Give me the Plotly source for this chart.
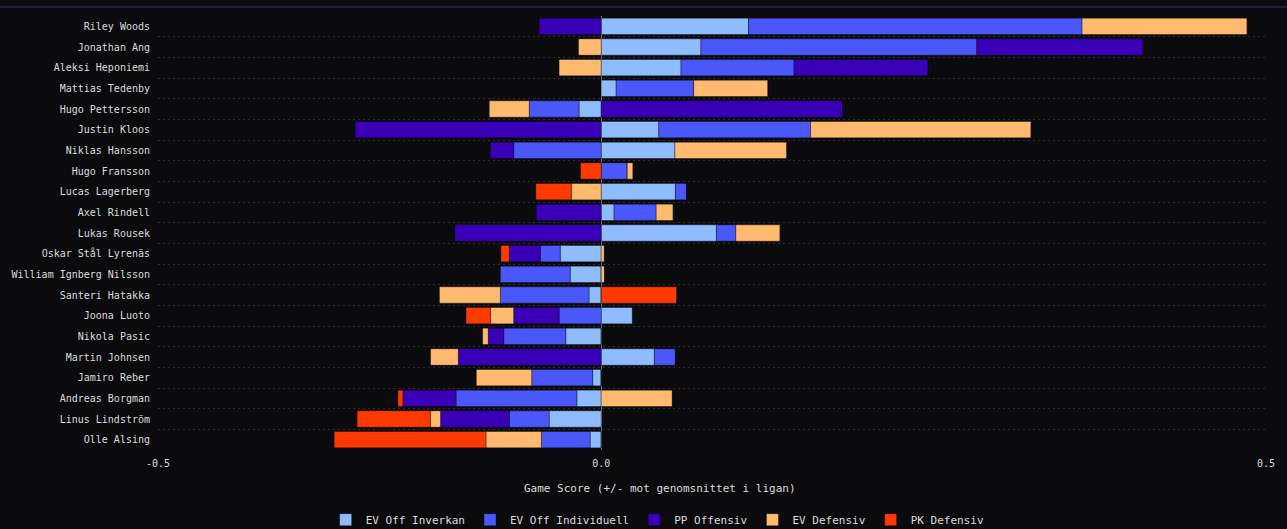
import plotly.graph_objects as go

BG_COLOUR = '#0b0b0e'
TEXT_COLOUR = '#dcdcdc'
GRID_COLOUR = '#2e2e33'
FONT = 'DejaVu Sans Mono, Liberation Mono, monospace'

players = [
    'Riley Woods', 'Jonathan Ang', 'Aleksi Heponiemi', 'Mattias Tedenby',
    'Hugo Pettersson', 'Justin Kloos', 'Niklas Hansson', 'Hugo Fransson',
    'Lucas Lagerberg', 'Axel Rindell', 'Lukas Rousek', 'Oskar Stål Lyrenäs',
    'William Ignberg Nilsson', 'Santeri Hatakka', 'Joona Luoto', 'Nikola Pasic',
    'Martin Johnsen', 'Jamiro Reber', 'Andreas Borgman', 'Linus Lindström',
    'Olle Alsing',
]

# values, one per player (same order as players)
ev_off_inverkan = [
    0.133, 0.090, 0.072, 0.0135, -0.020, 0.052, 0.0665, 0.0, 0.067, 0.0116,
    0.104, -0.037, -0.028, -0.011, 0.028, -0.032, 0.048, -0.0077, -0.022,
    -0.047, -0.010,
]
ev_off_individuell = [
    0.301, 0.249, 0.102, 0.070, -0.045, 0.137, -0.079, 0.0235, 0.010, 0.038,
    0.0175, -0.018, -0.063, -0.080, -0.038, -0.056, 0.019, -0.055, -0.109,
    -0.036, -0.044,
]
pp_offensiv = [
    -0.056, 0.150, 0.121, 0.0, 0.218, -0.222, -0.021, 0.0, 0.0, -0.0585,
    -0.132, -0.028, 0.0, 0.0, -0.041, -0.014, -0.129, 0.0, -0.048, -0.062,
    0.0,
]
ev_defensiv = [
    0.149, -0.0205, -0.038, 0.067, -0.036, 0.199, 0.101, 0.005, -0.027, 0.0154,
    0.040, 0.0027, 0.003, -0.055, -0.021, -0.005, -0.025, -0.050, 0.064,
    -0.0093, -0.050,
]
pk_defensiv = [
    0.0, 0.0, 0.0, 0.0, 0.0, 0.0, 0.0, -0.0186, -0.032, 0.0, 0.0, -0.0075,
    0.0, 0.068, -0.022, 0.0, 0.0, 0.0, -0.0045, -0.066, -0.137,
]

SERIES = [
    ('EV Off Inverkan', ev_off_inverkan, '#8fbcff'),
    ('EV Off Individuell', ev_off_individuell, '#4a57fb'),
    ('PP Offensiv', pp_offensiv, '#3a00b8'),
    ('EV Defensiv', ev_defensiv, '#ffba70'),
    ('PK Defensiv', pk_defensiv, '#ff3a00'),
]

x_ticks = [-0.4, 0.0, 0.6]
x_tick_labels = ['-0.5', '0.0', '0.5']

fig = go.Figure()
for name, values, colour in SERIES:
    fig.add_trace(go.Bar(
        y=players,
        x=values,
        orientation='h',
        name=name,
        marker=dict(color=colour, line=dict(color='rgba(0,0,0,0.35)', width=1)),
    ))

fig.update_layout(
    width=1287,
    height=529,
    barmode='relative',
    bargap=0.21,
    paper_bgcolor=BG_COLOUR,
    plot_bgcolor=BG_COLOUR,
    font=dict(family=FONT, color=TEXT_COLOUR, size=10),
    margin=dict(l=156, r=18, t=16, b=79),
    legend=dict(
        orientation='h',
        xref='container', x=0.511, xanchor='center',
        yref='container', y=0.045, yanchor='top',
        font=dict(size=11),
        traceorder='normal',
        itemwidth=30,
    ),
    annotations=[dict(
        text='Game Score (+/- mot genomsnittet i ligan)',
        xref='paper', yref='paper', x=0.453, y=-0.069,
        xanchor='center', yanchor='top', showarrow=False,
        font=dict(size=11, color=TEXT_COLOUR),
    )],
    shapes=[dict(
        type='line', xref='paper', yref='paper',
        x0=-0.15, x1=1.02, y0=1.021, y1=1.021,
        line=dict(color='#24244a', width=1.5),
    )],
)

fig.update_xaxes(
    range=[-0.4, 0.6],
    tickvals=x_ticks,
    ticktext=x_tick_labels,
    showgrid=True, gridcolor=GRID_COLOUR, griddash='2px,3px', gridwidth=1,
    zeroline=True, zerolinecolor='#707070', zerolinewidth=1,
    ticks='', ticklabelstandoff=6,
    tickfont=dict(size=10),
)
fig.update_yaxes(
    autorange='reversed',
    type='category',
    tickson='boundaries',
    showgrid=True, gridcolor=GRID_COLOUR, griddash='2px,3px', gridwidth=1,
    ticks='', ticklabelstandoff=7,
    tickfont=dict(size=10),
)

# drop the page margin so the figure fills the window like the original
fig.write_html(
    'out.html',
    config={'displayModeBar': False},
    post_script="document.body.style.margin='0';"
                "document.body.style.background='%s';" % BG_COLOUR,
)
